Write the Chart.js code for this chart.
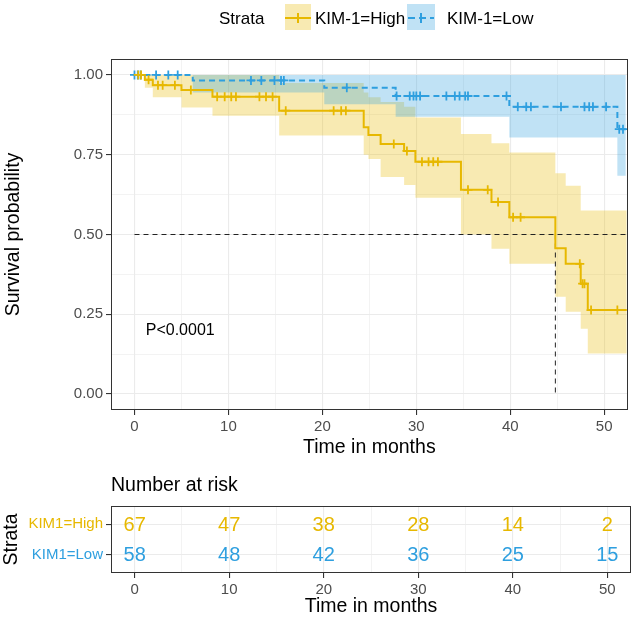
<!DOCTYPE html>
<html><head><meta charset="utf-8">
<script src="https://cdn.jsdelivr.net/npm/chart.js@4.4.1/dist/chart.umd.min.js"></script>
<style>
html,body{margin:0;padding:0;background:#fff;}
#wrap{position:relative;width:634px;height:618px;overflow:hidden;font-family:"Liberation Sans",Arial,sans-serif;background:#fff;}
#main{position:absolute;left:0;top:0;}
#risk{position:absolute;left:0;top:465px;}
.lg{position:absolute;font-size:17px;line-height:20px;color:#000;white-space:nowrap;top:9px;}
.key{position:absolute;top:4px;}
</style></head>
<body>
<div id="wrap">
 <canvas id="main" width="634" height="465"></canvas>
 <canvas id="risk" width="634" height="153"></canvas>
 <div id="legend">
  <span class="lg" style="left:219px">Strata</span>
  <svg class="key" style="left:285px" width="26" height="26">
   <rect x="0" y="0" width="26" height="26" fill="rgba(231,184,0,0.3)"/>
   <line x1="0" y1="14" x2="26" y2="14" stroke="#E7B800" stroke-width="2"/>
   <line x1="13" y1="9" x2="13" y2="19" stroke="#E7B800" stroke-width="2"/>
  </svg>
  <span class="lg" style="left:315px">KIM-1=High</span>
  <svg class="key" style="left:407px" width="28" height="26">
   <rect x="0" y="0" width="28" height="26" fill="rgba(46,159,223,0.3)"/>
   <line x1="1" y1="14" x2="27" y2="14" stroke="#2E9FDF" stroke-width="2" stroke-dasharray="7,4"/>
   <line x1="14" y1="9" x2="14" y2="19" stroke="#2E9FDF" stroke-width="2"/>
  </svg>
  <span class="lg" style="left:447px">KIM-1=Low</span>
 </div>
</div>
<script>
// ---------------- data ----------------
const highTimes = [0, 1.1, 1.95, 5.0, 8.3, 15.4, 24.4, 24.9, 26.2, 28.7, 29.9, 34.75, 38.0, 39.9, 44.8, 45.9, 47.5, 48.25, 52.4];
const highSurv  = [1.0, 0.985, 0.968, 0.953, 0.932, 0.888, 0.836, 0.812, 0.784, 0.762, 0.728, 0.640, 0.602, 0.554, 0.457, 0.408, 0.346, 0.263, 0.263];
const highUpper = [1, 1, 1, 1, 1, 0.975, 0.945, 0.93, 0.915, 0.90, 0.867, 0.815, 0.786, 0.757, 0.692, 0.653, 0.575, 0.575, 0.575];
const highLower = [1, 0.96, 0.93, 0.898, 0.872, 0.81, 0.75, 0.737, 0.68, 0.655, 0.615, 0.50, 0.455, 0.408, 0.305, 0.258, 0.205, 0.127, 0.127];
const highCensor = [0.4, 0.7, 1.5, 2.5, 3.0, 4.3, 6.0, 8.8, 9.6, 10.3, 10.8, 13.3, 14.0, 14.7, 16.1, 21.2, 22.0, 22.5, 27.6, 29.0, 30.6, 31.3, 31.8, 32.3, 35.5, 37.6, 38.7, 40.3, 41.1, 47.4, 47.7, 47.9, 48.6, 51.4];

const lowTimes = [0, 6.2, 20.2, 27.8, 39.9, 51.4, 52.3];
const lowSurv  = [1, 0.983, 0.96, 0.934, 0.9, 0.83, 0.83];
const lowUpper = [1, 1, 1, 1, 1, 1, 1];
const lowLower = [1, 0.945, 0.908, 0.869, 0.804, 0.684, 0.684];
const lowCensor = [0, 0.35, 0.65, 2.3, 3.6, 4.6, 12.4, 13.5, 14.9, 15.6, 15.9, 22.6, 27.9, 29.3, 29.7, 30.0, 30.4, 33.2, 34.1, 34.6, 35.2, 35.5, 39.6, 40.8, 41.7, 42.2, 45.4, 47.9, 48.4, 48.8, 50.2, 51.6, 52.0];

const medianSurv = 0.5;
const medianTime = 44.8;

const riskTimes = [0, 10, 20, 30, 40, 50];
const riskHigh = [67, 47, 38, 28, 14, 2];
const riskLow  = [58, 48, 42, 36, 25, 15];

const xTicks = [0, 5, 10, 15, 20, 25, 30, 35, 40, 45, 50];
const xMajor = [0, 10, 20, 30, 40, 50];
const yTicks = [0, 0.125, 0.25, 0.375, 0.5, 0.625, 0.75, 0.875, 1];
const yMajor = [0, 0.25, 0.5, 0.75, 1];
const strataLabels = ['KIM1=High', 'KIM1=Low'];
const pvalText = 'P<0.0001';
const pvalPos = [1.2, 0.2];

// ---------------- styling ----------------
const HIGH = '#E7B800', LOW = '#2E9FDF';
const HIGH_FILL = 'rgba(231,184,0,0.3)', LOW_FILL = 'rgba(46,159,223,0.3)';
const FF = '"Liberation Sans", Arial, sans-serif';
const NONE = 'rgba(0,0,0,0)';
const isIn = (arr, v) => arr.some(a => Math.abs(a - v) < 1e-9);

function pts(times, vals) { return times.map((t, i) => ({x: t, y: vals[i]})); }
function stepAt(times, vals, t) {
  let v = vals[0];
  for (let i = 0; i < times.length; i++) { if (times[i] <= t + 1e-9) v = vals[i]; }
  return v;
}

const panelBorder = {
  id: 'panelBorder',
  afterDraw(chart) {
    const {ctx, chartArea: a} = chart;
    ctx.save();
    ctx.strokeStyle = '#333333';
    ctx.lineWidth = 1;
    ctx.strokeRect(Math.round(a.left) + 0.5, Math.round(a.top) + 0.5, Math.round(a.right - a.left) - 1, Math.round(a.bottom - a.top) - 1);
    ctx.restore();
  }
};

const pvalPlugin = {
  id: 'pval',
  afterDatasetsDraw(chart) {
    const {ctx, scales: {x, y}} = chart;
    ctx.save();
    ctx.font = '16px ' + FF;
    ctx.fillStyle = '#000';
    ctx.textAlign = 'left';
    ctx.textBaseline = 'middle';
    ctx.fillText(pvalText, x.getPixelForValue(pvalPos[0]), y.getPixelForValue(pvalPos[1]));
    ctx.restore();
  }
};

function gridOpts(majors) {
  return {
    color: '#EBEBEB',
    lineWidth: c => (c.tick && isIn(majors, c.tick.value)) ? 1.1 : 0.6,
    tickColor: c => (c.tick && isIn(majors, c.tick.value)) ? '#333333' : NONE,
    tickLength: 5,
    drawTicks: true
  };
}

// ---------------- main chart ----------------
const lineBase = {stepped: true, pointRadius: 0, tension: 0, fill: false};
new Chart(document.getElementById('main'), {
  type: 'line',
  data: {
    datasets: [
      Object.assign({}, lineBase, {data: pts(highTimes, highSurv), borderColor: HIGH, borderWidth: 2, order: 2}),
      Object.assign({}, lineBase, {data: pts(lowTimes, lowSurv), borderColor: LOW, borderWidth: 2, borderDash: [6, 4], order: 2}),
      {data: highCensor.map(t => ({x: t, y: stepAt(highTimes, highSurv, t)})), showLine: false, pointStyle: 'cross', pointRadius: 4.5, pointBorderWidth: 1.8, pointBorderColor: HIGH, borderColor: HIGH, order: 1},
      {data: lowCensor.map(t => ({x: t, y: stepAt(lowTimes, lowSurv, t)})), showLine: false, pointStyle: 'cross', pointRadius: 4.5, pointBorderWidth: 1.8, pointBorderColor: LOW, borderColor: LOW, order: 1},
      Object.assign({}, lineBase, {data: pts(highTimes, highUpper), borderColor: NONE, borderWidth: 0, backgroundColor: HIGH_FILL, fill: '+1', order: 11}),
      Object.assign({}, lineBase, {data: pts(highTimes, highLower), borderColor: NONE, borderWidth: 0, order: 11}),
      Object.assign({}, lineBase, {data: pts(lowTimes, lowUpper), borderColor: NONE, borderWidth: 0, backgroundColor: LOW_FILL, fill: '+1', order: 10}),
      Object.assign({}, lineBase, {data: pts(lowTimes, lowLower), borderColor: NONE, borderWidth: 0, order: 10}),
      {data: [{x: 0, y: medianSurv}, {x: 52.5, y: medianSurv}], borderColor: '#222', borderWidth: 1, borderDash: [5, 4], pointRadius: 0, fill: false, order: 5},
      {data: [{x: medianTime, y: medianSurv}, {x: medianTime, y: 0}], borderColor: '#222', borderWidth: 1, borderDash: [5, 4], pointRadius: 0, fill: false, order: 5}
    ]
  },
  options: {
    responsive: false,
    animation: false,
    events: [],
    layout: {padding: {top: 59, right: 3, left: 0, bottom: 0}},
    plugins: {legend: {display: false}, tooltip: {enabled: false}, title: {display: false}},
    scales: {
      x: {
        type: 'linear', min: -2.5, max: 52.5,
        afterFit: s => { s.height = 55; },
        afterBuildTicks: s => { s.ticks = xTicks.map(v => ({value: v})); },
        ticks: {callback: v => isIn(xMajor, v) ? String(v) : '', font: {size: 15, family: FF}, color: '#4D4D4D', padding: 3, maxRotation: 0, autoSkip: false},
        grid: gridOpts(xMajor),
        border: {display: false},
        title: {display: true, text: 'Time in months', font: {size: 19.5, family: FF}, color: '#000', padding: {top: 0, bottom: 6}}
      },
      y: {
        type: 'linear', min: -0.05, max: 1.05,
        afterFit: s => { s.width = 111; },
        afterBuildTicks: s => { s.ticks = yTicks.map(v => ({value: v})); },
        ticks: {callback: v => isIn(yMajor, v) ? Number(v).toFixed(2) : '', font: {size: 15, family: FF}, color: '#4D4D4D', padding: 3, autoSkip: false},
        grid: gridOpts(yMajor),
        border: {display: false},
        title: {display: true, text: 'Survival probability', font: {size: 19.5, family: FF}, color: '#000', padding: {top: 2, bottom: 0}}
      }
    }
  },
  plugins: [pvalPlugin, panelBorder]
});

// ---------------- risk table ----------------
const riskText = {
  id: 'riskText',
  afterDatasetsDraw(chart) {
    const {ctx} = chart;
    ctx.save();
    ctx.font = '20px ' + FF;
    ctx.textAlign = 'center';
    ctx.textBaseline = 'middle';
    chart.data.datasets.forEach((ds, di) => {
      const meta = chart.getDatasetMeta(di);
      ctx.fillStyle = ds.textColor;
      meta.data.forEach((el, i) => { ctx.fillText(String(ds.data[i].n), el.x, el.y + 1); });
    });
    ctx.restore();
  }
};
const riskTitle = {
  id: 'riskTitle',
  afterDraw(chart) {
    const {ctx, chartArea: a} = chart;
    ctx.save();
    ctx.font = '19.5px ' + FF;
    ctx.fillStyle = '#000';
    ctx.textAlign = 'left';
    ctx.textBaseline = 'middle';
    ctx.fillText('Number at risk', a.left, 21);
    ctx.restore();
  }
};
new Chart(document.getElementById('risk'), {
  type: 'scatter',
  data: {
    datasets: [
      {data: riskTimes.map((t, i) => ({x: t, y: 2, n: riskHigh[i]})), pointRadius: 0, textColor: HIGH},
      {data: riskTimes.map((t, i) => ({x: t, y: 1, n: riskLow[i]})), pointRadius: 0, textColor: LOW}
    ]
  },
  options: {
    responsive: false,
    animation: false,
    events: [],
    layout: {padding: {top: 41, right: 3, left: 0, bottom: 0}},
    plugins: {legend: {display: false}, tooltip: {enabled: false}, title: {display: false}},
    scales: {
      x: {
        type: 'linear', min: -2.5, max: 52.5,
        afterFit: s => { s.height = 45; },
        afterBuildTicks: s => { s.ticks = xTicks.map(v => ({value: v})); },
        ticks: {callback: v => isIn(xMajor, v) ? String(v) : '', font: {size: 15, family: FF}, color: '#4D4D4D', padding: 3, maxRotation: 0, autoSkip: false},
        grid: gridOpts(xMajor),
        border: {display: false},
        title: {display: true, text: 'Time in months', font: {size: 19.5, family: FF}, color: '#000', padding: {top: 0, bottom: 0}}
      },
      y: {
        type: 'linear', min: 0.4, max: 2.6,
        afterFit: s => { s.width = 111; },
        afterBuildTicks: s => { s.ticks = [{value: 1}, {value: 2}]; },
        ticks: {callback: v => v === 2 ? strataLabels[0] : strataLabels[1], font: {size: 15, family: FF}, color: c => (c.tick && c.tick.value === 2) ? HIGH : LOW, padding: 3, autoSkip: false},
        grid: gridOpts([1, 2]),
        border: {display: false},
        title: {display: true, text: 'Strata', font: {size: 19.5, family: FF}, color: '#000', padding: {top: 0, bottom: 0}}
      }
    }
  },
  plugins: [riskText, riskTitle, panelBorder]
});
</script>
</body></html>
